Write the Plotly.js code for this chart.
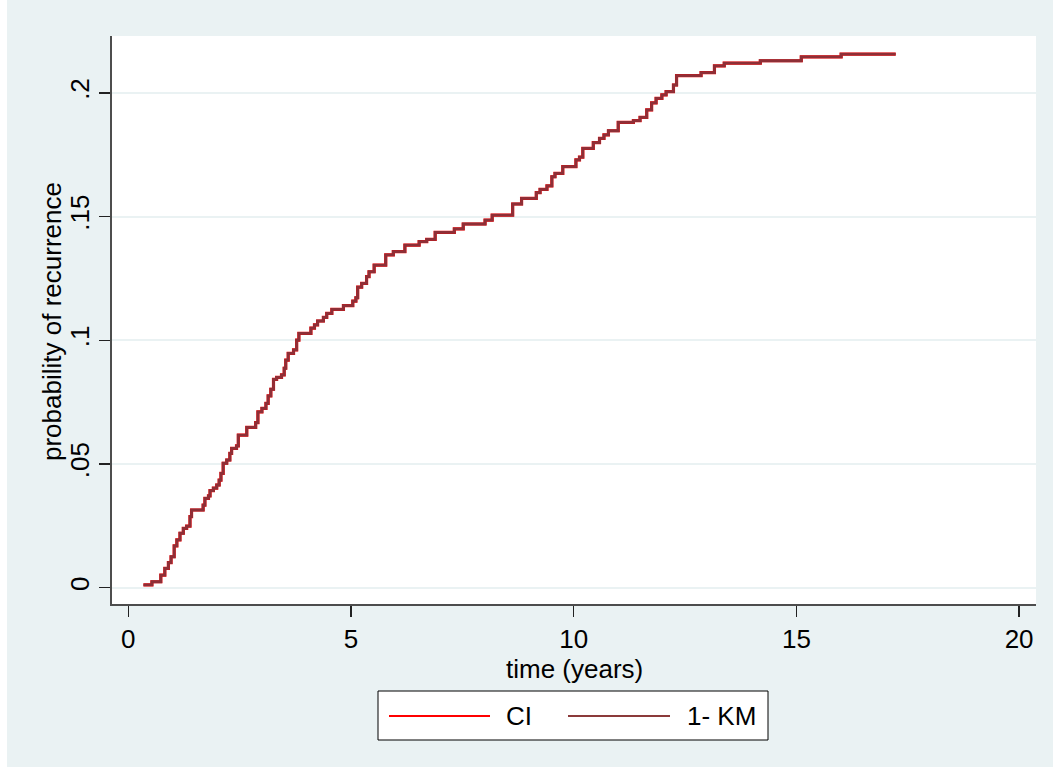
<!DOCTYPE html>
<html>
<head>
<meta charset="utf-8">
<script src="https://cdn.plot.ly/plotly-3.0.1.min.js"></script>
<style>html,body{margin:0;padding:0;background:#fff;}#chart{width:1053px;height:771px;}</style>
</head>
<body>
<div id="chart"></div>
<script>
// ---- data ----
const timeYears = [0.34, 0.53, 0.73, 0.82, 0.90, 0.96, 1.03, 1.09, 1.16, 1.235,
  1.31, 1.385, 1.42, 1.68, 1.72, 1.80, 1.835, 1.91, 1.985, 2.04,
  2.08, 2.13, 2.21, 2.28, 2.32, 2.43, 2.47, 2.66, 2.86, 2.91,
  3.0, 3.09, 3.14, 3.20, 3.26, 3.33, 3.44, 3.50, 3.535, 3.59,
  3.71, 3.78, 3.83, 4.10, 4.18, 4.25, 4.38, 4.455, 4.57, 4.83,
  5.04, 5.11, 5.15, 5.24, 5.35, 5.405, 5.52, 5.78, 5.95, 6.21,
  6.53, 6.70, 6.89, 7.32, 7.52, 8.01, 8.17, 8.63, 8.83, 9.16,
  9.245, 9.40, 9.51, 9.58, 9.755, 10.05, 10.13, 10.205, 10.44, 10.58,
  10.68, 10.78, 11.00, 11.34, 11.49, 11.64, 11.75, 11.85, 11.98, 12.075,
  12.24, 12.31, 12.86, 13.16, 13.38, 14.19, 15.11, 16.005, 17.23];

const kmProb = [0.0011, 0.0024, 0.0051, 0.0078, 0.0101, 0.0125, 0.0169, 0.0193, 0.0220, 0.0240,
  0.0249, 0.0287, 0.0314, 0.0334, 0.0361, 0.0371, 0.0392, 0.0402, 0.0415, 0.0435,
  0.0462, 0.0503, 0.0516, 0.0543, 0.0563, 0.0573, 0.0617, 0.0648, 0.0667, 0.0711,
  0.0725, 0.0745, 0.0775, 0.0802, 0.0842, 0.0850, 0.0860, 0.0887, 0.0920, 0.0947,
  0.0961, 0.1001, 0.1028, 0.1049, 0.1062, 0.1078, 0.1093, 0.1109, 0.1125, 0.1140,
  0.1158, 0.1172, 0.1215, 0.1230, 0.1257, 0.1277, 0.1304, 0.1345, 0.1358, 0.1385,
  0.1399, 0.1408, 0.1436, 0.1450, 0.1470, 0.1486, 0.1506, 0.1551, 0.1574, 0.1597,
  0.1610, 0.1624, 0.1661, 0.1675, 0.1702, 0.1729, 0.1740, 0.1776, 0.1799, 0.1816,
  0.1830, 0.1847, 0.1881, 0.1888, 0.1901, 0.1931, 0.1960, 0.1978, 0.1992, 0.2005,
  0.2032, 0.2070, 0.2082, 0.2109, 0.2120, 0.2130, 0.2146, 0.2157, 0.2157];

// CI curve coincides with 1-KM (no competing risks visible)
const ciProb = kmProb.slice();

const xTickVals = [0, 5, 10, 15, 20];
const xTickText = ['0', '5', '10', '15', '20'];
const yTickVals = [0, 0.05, 0.1, 0.15, 0.2];
const yTickText = ['0', '.05', '.1', '.15', '.2'];
const seriesNames = ['CI', '1- KM'];
const xTitle = 'time (years)';
const yTitle = 'probability of recurrence';

// ---- styling / layout ----
const W = 1053, H = 771;
const M = {l: 112, r: 17, t: 36, b: 167};
const PW = W - M.l - M.r, PH = H - M.t - M.b;
const px2x = p => (p - M.l) / PW;
const px2y = p => (H - M.b - p) / PH;

const FONT = 'Liberation Sans, Arial, Helvetica, sans-serif';
const BG = '#EAF2F3';
const CI_COLOR = '#FF0000';
const KM_COLOR = '#8E2F37';
const TXT = {family: FONT, size: 26, color: '#000'};

const traces = [
  {x: timeYears, y: ciProb, name: seriesNames[0], type: 'scatter', mode: 'lines',
   line: {shape: 'hv', color: CI_COLOR, width: 3.2}, hoverinfo: 'skip'},
  {x: timeYears, y: kmProb, name: seriesNames[1], type: 'scatter', mode: 'lines',
   line: {shape: 'hv', color: KM_COLOR, width: 2.8}, hoverinfo: 'skip'}
];

const shapes = [
  // white edge strips of the image
  {type: 'rect', xref: 'paper', yref: 'paper', x0: px2x(0), x1: px2x(7), y0: px2y(H), y1: px2y(0),
   fillcolor: '#FFFFFF', line: {width: 0}, layer: 'below'},
  {type: 'rect', xref: 'paper', yref: 'paper', x0: px2x(0), x1: px2x(W), y0: px2y(H), y1: px2y(H - 4),
   fillcolor: '#FFFFFF', line: {width: 0}, layer: 'below'},
  // legend box
  {type: 'rect', xref: 'paper', yref: 'paper', x0: px2x(378), x1: px2x(768), y0: px2y(740), y1: px2y(691),
   fillcolor: '#FFFFFF', line: {color: '#000000', width: 1}},
  {type: 'line', xref: 'paper', yref: 'paper', x0: px2x(389), x1: px2x(490), y0: px2y(716), y1: px2y(716),
   line: {color: CI_COLOR, width: 2}},
  {type: 'line', xref: 'paper', yref: 'paper', x0: px2x(568), x1: px2x(670), y0: px2y(716), y1: px2y(716),
   line: {color: '#8B3A3A', width: 2}}
];

const annotations = [
  // legend labels
  {xref: 'paper', yref: 'paper', x: px2x(504), y: px2y(716), text: seriesNames[0], showarrow: false,
   xanchor: 'left', yanchor: 'middle', font: TXT},
  {xref: 'paper', yref: 'paper', x: px2x(685), y: px2y(716), text: seriesNames[1], showarrow: false,
   xanchor: 'left', yanchor: 'middle', font: TXT},
  // axis titles
  {xref: 'paper', yref: 'paper', x: 0.5, y: px2y(669), text: xTitle, showarrow: false,
   xanchor: 'center', yanchor: 'middle', font: TXT},
  {xref: 'paper', yref: 'paper', x: px2x(52), y: px2y(322), text: yTitle, showarrow: false,
   textangle: -90, xanchor: 'center', yanchor: 'middle', font: TXT}
];

const layout = {
  width: W, height: H,
  margin: M,
  paper_bgcolor: BG,
  plot_bgcolor: '#FFFFFF',
  showlegend: false,
  font: TXT,
  xaxis: {
    range: [-0.366, 20.38],
    tickmode: 'array', tickvals: xTickVals, ticktext: xTickText,
    ticks: 'outside', ticklen: 11, tickwidth: 1.5, tickcolor: '#222',
    showline: true, linecolor: '#4D4D4D', linewidth: 2,
    showgrid: false, zeroline: false,
    tickfont: TXT
  },
  yaxis: {
    range: [-0.0066, 0.223],
    tickmode: 'array', tickvals: yTickVals, ticktext: yTickText,
    tickangle: -90,
    ticks: 'outside', ticklen: 11, tickwidth: 1.5, tickcolor: '#222',
    showline: true, linecolor: '#4D4D4D', linewidth: 2,
    showgrid: true, gridcolor: BG, gridwidth: 2, zeroline: false,
    tickfont: TXT
  },
  shapes: shapes,
  annotations: annotations
};

Plotly.newPlot('chart', traces, layout, {staticPlot: true, displayModeBar: false});
</script>
</body>
</html>
